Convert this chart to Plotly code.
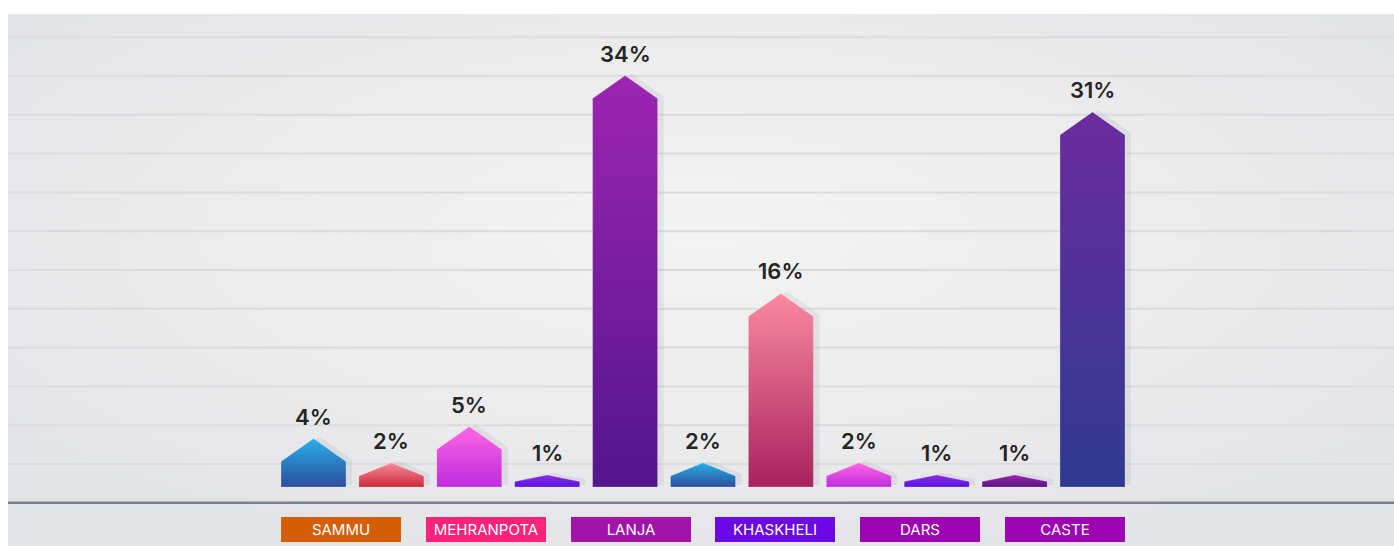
import base64
import plotly.graph_objects as go

# Share for each bar, left to right (percent)
bar_values = [4, 2, 5, 1, 34, 2, 16, 2, 1, 1, 31]

# Key shown under the chart
legend_labels = ["SAMMU", "MEHRANPOTA", "LANJA", "KHASKHELI", "DARS", "CASTE"]
legend_colors = ["#d35e07", "#fc2379", "#a114a7", "#6a08e6", "#9b04b0", "#9b04b0"]

# (top, bottom) gradient colours for each bar
bar_gradients = [
    ("#29b0e8", "#2c4e9c"),
    ("#fb8c9b", "#cb2a3c"),
    ("#ff66e2", "#be2ce0"),
    ("#8d30e0", "#5810e6"),
    ("#9d25b1", "#53158c"),
    ("#29b0e8", "#2c4e9c"),
    ("#fb8aa0", "#a8225e"),
    ("#ff66e2", "#be2ce0"),
    ("#8d30e0", "#5810e6"),
    ("#9a27ae", "#56177f"),
    ("#6b2b9f", "#2e3a8f"),
]

# ---- canvas geometry (pixels) ----
W, H = 1394, 546
ML, MT = 8, 14                 # white frame left / top
PX_PER_CAT = 77.9              # horizontal spacing between bars
FIRST_CENTER = 313.5           # centre of the first bar
BASE_PX = 487                  # bar baseline
PX_PER_UNIT = 12.1             # vertical pixels per percent
ROOF_PX = 23                   # height of the pointed top
HALF_W = 32.5 / PX_PER_CAT     # half bar width in category units
GRID_BOTTOM_PX = 502.8         # heavy base rule
GRID_STEP_PX = 38.8

x_range = [-(FIRST_CENTER - ML) / PX_PER_CAT, (W - FIRST_CENTER) / PX_PER_CAT]
y_range = [-(H - BASE_PX) / PX_PER_UNIT, (BASE_PX - MT) / PX_PER_UNIT]
grid0 = -(GRID_BOTTOM_PX - BASE_PX) / PX_PER_UNIT
grid_step = GRID_STEP_PX / PX_PER_UNIT

fig = go.Figure()


def house(cx, v, dx=0.0, dy=0.0):
    roof = min(ROOF_PX / PX_PER_UNIT, 0.55 * v)
    xs = [cx - HALF_W, cx - HALF_W, cx, cx + HALF_W, cx + HALF_W, cx - HALF_W]
    ys = [0, v - roof, v, v - roof, 0, 0]
    return [x + dx for x in xs], [y + dy for y in ys]


# horizontal guide lines above the base rule
g = grid0 + grid_step
while g < y_range[1]:
    fig.add_shape(type="line", xref="paper", x0=0, x1=1, yref="y", y0=g, y1=g,
                  layer="below", line=dict(color="#dbdcde", width=2))
    g += grid_step

# soft drop shadows
for i, v in enumerate(bar_values):
    xs, ys = house(i, v, dx=6 / PX_PER_CAT, dy=2 / PX_PER_UNIT)
    fig.add_trace(go.Scatter(
        x=xs, y=ys, mode="lines", fill="toself",
        fillcolor="rgba(150,155,168,0.16)", line=dict(width=0),
        hoverinfo="skip", showlegend=False))

# gradient house-shaped bars
for i, (v, (top, bottom)) in enumerate(zip(bar_values, bar_gradients)):
    xs, ys = house(i, v)
    fig.add_trace(go.Scatter(
        x=xs, y=ys, mode="lines", fill="toself",
        fillgradient=dict(type="vertical", colorscale=[[0, bottom], [1, top]]),
        line=dict(width=1, color="rgba(255,255,255,0.22)"),
        hoverinfo="skip", showlegend=False))
    fig.add_annotation(
        x=i, y=v, text=f"{v}%", showarrow=False, yanchor="bottom", yshift=7,
        font=dict(family="Inter", size=22, color="#242424", weight=600))

# key boxes under the base rule
key_step = 144.8
key_first = 341.0
for j, (lab, col) in enumerate(zip(legend_labels, legend_colors)):
    cx = key_first + j * key_step
    fig.add_annotation(
        xref="paper", yref="paper",
        x=(cx - ML) / (W - ML), y=(H - 529) / (H - MT),
        text=lab, showarrow=False, xanchor="center", yanchor="middle",
        width=120, height=25, borderpad=0, bgcolor=col, borderwidth=0,
        font=dict(family="Inter", size=15, color="#ffffff"))

# heavy base rule
fig.add_shape(type="line", xref="paper", x0=0, x1=1, yref="y", y0=grid0, y1=grid0,
              line=dict(color="#7a7e92", width=2.5))

# light radial panel behind everything
svg = (
    '<svg xmlns="http://www.w3.org/2000/svg" width="1386" height="532" '
    'viewBox="0 0 1386 532" preserveAspectRatio="none">'
    '<defs><radialGradient id="g" cx="0.5" cy="0.42" r="0.62">'
    '<stop offset="0" stop-color="#f3f3f3"/>'
    '<stop offset="0.55" stop-color="#ececed"/>'
    '<stop offset="1" stop-color="#e3e4e6"/>'
    '</radialGradient></defs>'
    '<rect width="1386" height="532" fill="url(#g)"/></svg>'
)
fig.add_layout_image(
    source="data:image/svg+xml;base64," + base64.b64encode(svg.encode()).decode(),
    xref="paper", yref="paper", x=0, y=1, sizex=1, sizey=1,
    xanchor="left", yanchor="top", sizing="stretch", layer="below")

fig.update_layout(
    width=W, height=H,
    margin=dict(l=ML, r=0, t=MT, b=0),
    paper_bgcolor="#ffffff", plot_bgcolor="rgba(0,0,0,0)",
    showlegend=False,
    xaxis=dict(range=x_range, showgrid=False, zeroline=False,
               showticklabels=False, fixedrange=True),
    yaxis=dict(range=y_range, showgrid=False, zeroline=False,
               showticklabels=False, fixedrange=True),
)

fig.write_html("out.html")
